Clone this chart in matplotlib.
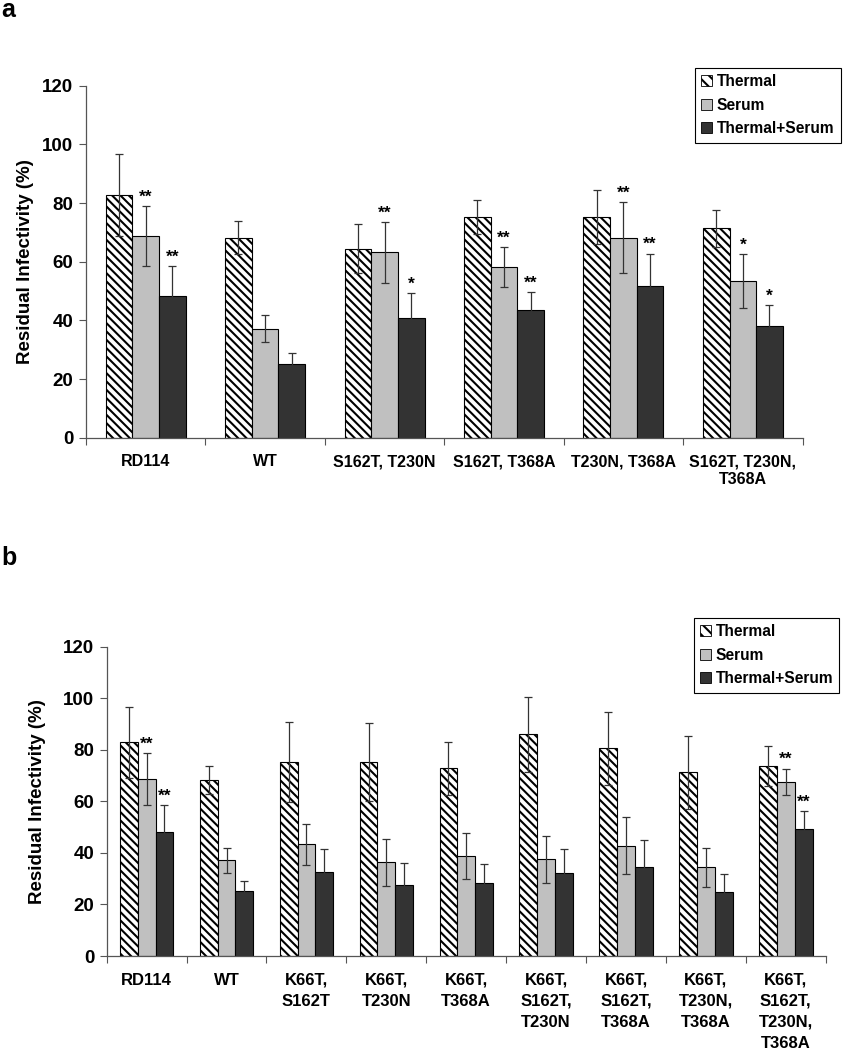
import matplotlib
matplotlib.use("Agg")
import matplotlib.pyplot as plt
from matplotlib.patches import Patch
import numpy as np

plt.rcParams['font.family'] = ['Liberation Sans', 'DejaVu Sans']
plt.rcParams['hatch.linewidth'] = 1.5

series = ["Thermal", "Serum", "Thermal+Serum"]

# Panel a
cats_a = ["RD114", "WT", "S162T, T230N", "S162T, T368A", "T230N, T368A",
          "S162T, T230N,\nT368A"]
thermal_a = [82.7, 68.2, 64.4, 75.1, 75.3, 71.4]
thermal_err_a = [14.0, 5.6, 8.4, 5.8, 9.3, 6.2]
serum_a = [68.7, 37.2, 63.2, 58.2, 68.2, 53.4]
serum_err_a = [10.3, 4.7, 10.4, 6.9, 12.1, 9.3]
ts_a = [48.3, 25.2, 40.9, 43.6, 51.8, 38.1]
ts_err_a = [10.1, 3.7, 8.5, 6.1, 11.0, 7.2]
stars_serum_a = ["**", "", "**", "**", "**", "*"]
stars_ts_a = ["**", "", "*", "**", "**", "*"]

# Panel b
cats_b = ["RD114", "WT", "K66T,\nS162T", "K66T,\nT230N", "K66T,\nT368A",
          "K66T,\nS162T,\nT230N", "K66T,\nS162T,\nT368A", "K66T,\nT230N,\nT368A",
          "K66T,\nS162T,\nT230N,\nT368A"]
thermal_b = [82.9, 68.3, 75.3, 75.3, 72.8, 86.0, 80.6, 71.3, 73.7]
thermal_err_b = [13.8, 5.4, 15.6, 15.0, 10.3, 14.6, 14.2, 14.2, 7.8]
serum_b = [68.7, 37.1, 43.3, 36.3, 38.9, 37.5, 42.8, 34.4, 67.5]
serum_err_b = [10.1, 4.7, 8.1, 9.2, 9.0, 9.2, 11.0, 7.7, 5.2]
ts_b = [48.2, 25.2, 32.5, 27.5, 28.2, 32.1, 34.4, 24.7, 49.4]
ts_err_b = [10.2, 4.0, 9.0, 8.4, 7.6, 9.4, 10.7, 7.2, 6.9]
stars_serum_b = ["**", "", "", "", "", "", "", "", "**"]
stars_ts_b = ["**", "", "", "", "", "", "", "", "**"]

fig = plt.figure(figsize=(8.48, 10.5), dpi=100)

light = "#C0C0C0"
dark = "#333333"
axis_col = "#555555"


def draw(ax, cats, th, the, se, see, ts, tse, st_se, st_ts, legend_anchor,
         label_x, xfs, lsp):
    n = len(cats)
    x = np.arange(n)
    w = 0.223
    kw = dict(edgecolor="black", linewidth=0.8, zorder=2)
    ax.bar(x - w, th, w, facecolor="white", hatch="\\\\\\\\", **kw)
    ax.bar(x, se, w, facecolor=light, **kw)
    ax.bar(x + w, ts, w, facecolor=dark, **kw)
    ekw = dict(fmt="none", ecolor="#333333", elinewidth=0.9, capsize=2.6,
               capthick=0.9, zorder=3)
    ax.errorbar(x - w, th, yerr=the, **ekw)
    ax.errorbar(x, se, yerr=see, **ekw)
    ax.errorbar(x + w, ts, yerr=tse, **ekw)
    for i in range(n):
        if st_se[i]:
            ax.annotate(st_se[i], (x[i], se[i] + see[i]), xytext=(0, 1),
                        textcoords="offset points", ha="center", va="bottom",
                        fontsize=12.5, fontweight="bold")
        if st_ts[i]:
            ax.annotate(st_ts[i], (x[i] + w, ts[i] + tse[i]), xytext=(0, 1),
                        textcoords="offset points", ha="center", va="bottom",
                        fontsize=12.5, fontweight="bold")
    ax.set_xlim(-0.5, n - 0.5)
    ax.set_ylim(0, 120)
    ax.set_yticks(np.arange(0, 121, 20))
    ax.tick_params(axis="y", labelsize=13.5, length=5, color=axis_col,
                   width=0.8, pad=4)
    for lab in ax.get_yticklabels():
        lab.set_fontweight("bold")
    ax.set_xticks(x)
    ax.set_xticklabels(cats, fontsize=xfs, fontweight="bold", va="top",
                       linespacing=lsp)
    ax.tick_params(axis="x", which="major", length=0, pad=12)
    ax.set_xticks(np.arange(-0.5, n, 1.0), minor=True)
    ax.tick_params(axis="x", which="minor", length=5, color=axis_col,
                   width=0.8)
    for s in ["top", "right"]:
        ax.spines[s].set_visible(False)
    for s in ["left", "bottom"]:
        ax.spines[s].set_color(axis_col)
        ax.spines[s].set_linewidth(0.9)
    ax.set_ylabel("Residual Infectivity (%)", fontsize=13.5, fontweight="bold")
    ax.yaxis.set_label_coords(label_x, 0.5)
    handles = [Patch(facecolor="white", edgecolor="black", hatch="\\\\\\",
                     linewidth=0.6, label=series[0]),
               Patch(facecolor=light, edgecolor="black", linewidth=0.6,
                     label=series[1]),
               Patch(facecolor=dark, edgecolor="black", linewidth=0.6,
                     label=series[2])]
    leg = fig.legend(handles=handles, loc="upper left",
                     bbox_to_anchor=legend_anchor, frameon=True,
                     fancybox=False, edgecolor="black", framealpha=1,
                     handlelength=0.7, handleheight=0.7, handletextpad=0.3,
                     labelspacing=0.55, borderpad=0.4, borderaxespad=0,
                     prop={"weight": "bold", "size": 11.2})
    leg.get_frame().set_linewidth(0.8)


ax_a = fig.add_axes([0.1014, 0.5831, 0.845, 0.3352])
draw(ax_a, cats_a, thermal_a, thermal_err_a, serum_a, serum_err_a, ts_a,
     ts_err_a, stars_serum_a, stars_ts_a, (0.8196, 0.9352), -0.072,
     11.5, 1.2)

ax_b = fig.add_axes([0.1258, 0.0895, 0.848, 0.2946])
draw(ax_b, cats_b, thermal_b, thermal_err_b, serum_b, serum_err_b, ts_b,
     ts_err_b, stars_serum_b, stars_ts_b, (0.818, 0.4114), -0.084,
     12, 1.5)

fig.text(0.002, 0.9838, "a", fontsize=18, fontweight="bold", va="baseline",
         ha="left")
fig.text(0.002, 0.4619, "b", fontsize=18, fontweight="bold", va="baseline",
         ha="left")

fig.savefig("out.png", dpi=100)
